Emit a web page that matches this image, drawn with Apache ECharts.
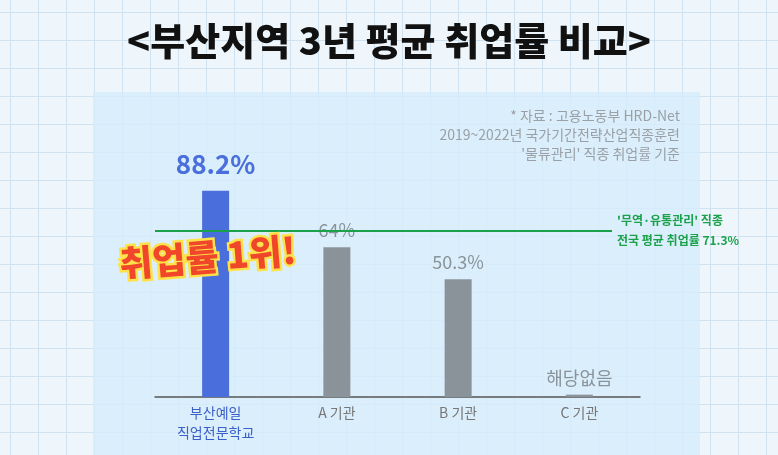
<!DOCTYPE html><html><head><meta charset="utf-8">
<script src="https://cdn.jsdelivr.net/npm/echarts@6/dist/echarts.min.js"></script>
<style>html,body{margin:0;padding:0;}
body{width:778px;height:455px;background-color:#eef6fc;background-image:linear-gradient(#cfe2f1 1px,transparent 1px),linear-gradient(90deg,#cfe2f1 1px,transparent 1px);background-size:28px 28px;background-position:10px 12px;}
#c{width:778px;height:455px;}</style></head><body><div id="c"></div>
<script>
const categories=['부산예일\n직업전문학교','A 기관','B 기관','C 기관'];
const values=[88.2,64,50.3,1];
const valueLabels=['88.2%','64%','50.3%','해당없음'];
const nationalAvg=71.3;
const chart=echarts.init(document.getElementById('c'));
const font='"Noto Sans CJK KR","Noto Sans",sans-serif';
chart.setOption({
 textStyle:{fontFamily:font},
 graphic:[
  {type:'rect',shape:{x:93,y:92,width:607,height:370},style:{fill:'rgba(215,236,250,0.85)'},z:-10},
  {type:'text',x:389,y:22,style:{text:'<부산지역 3년 평균 취업률 비교>',font:'900 38px '+font,fill:'#111',align:'center'}},
  {type:'text',x:680,y:106,style:{text:'* 자료 : 고용노동부 HRD-Net\n2019~2022년 국가기간전략산업직종훈련\n\'물류관리\' 직종 취업률 기준',font:'14px '+font,fill:'#9aa0a6',align:'right',lineHeight:19}},
  {type:'text',x:118,y:246,rotation:0.08,z:50,style:{text:'취업률 1위!',font:'900 36px '+font,fill:'#f0462a',stroke:'#ffe14a',lineWidth:5}}
 ],
 grid:{left:155,right:138,top:100,bottom:58},
 xAxis:{type:'category',data:categories,axisTick:{show:false},axisLine:{lineStyle:{color:'#555',width:1.5}},
  axisLabel:{fontSize:14,lineHeight:20,margin:6,color:(v,i)=>i===0?'#3b5fc9':'#777'}},
 yAxis:{type:'value',min:0,max:127,show:false,splitLine:{show:false}},
 series:[{type:'bar',barWidth:27,
  data:values.map((v,i)=>({value:v,itemStyle:{color:i===0?'#4a6fdc':'#8b939a'},
   label:{show:true,position:'top',formatter:valueLabels[i],fontSize:i===0?26:18,fontWeight:i===0?'bold':'normal',color:i===0?'#4a6fdc':'#8b939a',distance:i===0?14:8}})),
  markLine:{symbol:'none',silent:true,lineStyle:{color:'#1aa14a',width:2,type:'solid'},
   label:{position:'end',formatter:'\'무역·유통관리\' 직종\n전국 평균 취업률 '+nationalAvg+'%',color:'#1aa14a',fontSize:12,fontWeight:'bold',lineHeight:20,align:'left'},
   data:[[{x:155,yAxis:nationalAvg},{x:612,yAxis:nationalAvg}]]}
 }]
});
</script></body></html>
